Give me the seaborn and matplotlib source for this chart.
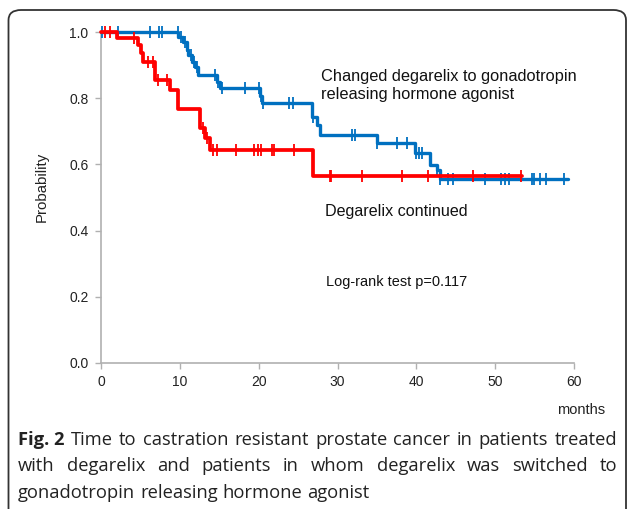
import numpy as np
import pandas as pd
import matplotlib
matplotlib.use("Agg")
import matplotlib.pyplot as plt
import seaborn as sns
from matplotlib.patches import FancyBboxPatch

# ---------------- data ----------------
red_times = [0, 2.07, 4.73, 5.04, 5.37, 6.85, 8.76, 9.81, 12.56, 13.2, 13.8, 26.9]
red_surv = [1.0, 0.981, 0.961, 0.936, 0.910, 0.855, 0.825, 0.767, 0.709, 0.679, 0.643, 0.565]
red_end = 53.4
red_censor = [0.5, 1.2, 4.2, 5.96, 6.6, 7.23, 8.38, 13.0, 13.5, 14.2, 14.7, 17.1, 19.4,
              19.9, 20.3, 21.7, 22.0, 24.5, 29.0, 29.2, 33.1, 38.2, 41.5, 47.2, 53.3]

blue_times = [0, 9.81, 10.45, 10.87, 11.08, 11.5, 11.93, 12.35, 14.68, 15.1, 20.18, 20.39,
              26.74, 27.37, 27.79, 35.0, 39.85, 41.75, 42.6, 43.0]
blue_surv = [1.0, 0.986, 0.971, 0.946, 0.931, 0.910, 0.895, 0.870, 0.850, 0.830, 0.807, 0.786,
             0.744, 0.719, 0.689, 0.664, 0.634, 0.598, 0.583, 0.556]
blue_end = 59.3
blue_censor = [0.1, 2.2, 6.2, 7.3, 7.7, 9.8, 10.2, 10.7, 11.0, 11.4, 11.8, 12.2, 14.5, 14.8,
               15.3, 18.3, 20.0, 20.3, 20.6, 23.8, 24.4, 26.9, 31.8, 32.2, 35.0, 37.5, 38.8,
               39.9, 40.3, 40.7, 42.6, 43.0, 44.0, 44.7, 48.7, 50.8, 51.3, 51.8, 54.7, 54.9,
               55.7, 56.5, 58.7]

colors = {"Changed": "#0070C0", "Continued": "#FF0000"}

x_ticks = [0, 10, 20, 30, 40, 50, 60]
y_ticks = [0.0, 0.2, 0.4, 0.6, 0.8, 1.0]

caption_lines = [
    ["Fig. 2", "Time", "to", "castration", "resistant", "prostate", "cancer", "in", "patients", "treated"],
    ["with", "degarelix", "and", "patients", "in", "whom", "degarelix", "was", "switched", "to"],
    ["gonadotropin", "releasing", "hormone", "agonist"],
]


def step_df(times, surv, end, name):
    xs = list(times) + [end]
    ys = list(surv) + [surv[-1]]
    return pd.DataFrame({"t": xs, "s": ys, "group": name})


def censor_df(times, surv, cens, name):
    t = np.asarray(times)
    s = np.asarray(surv)
    idx = np.searchsorted(t, np.asarray(cens), side="right") - 1
    return pd.DataFrame({"t": cens, "s": s[idx], "group": name})


W, H = 627, 509
fig = plt.figure(figsize=(W / 100, H / 100), dpi=100)
sns.set_style("white")
plt.rcParams["font.family"] = ["Liberation Sans", "DejaVu Sans"]

ax = fig.add_axes([101 / W, 1 - 363 / H, (574 - 101) / W, (363 - 32) / H])

df_blue = step_df(blue_times, blue_surv, blue_end, "Changed")
df_red = step_df(red_times, red_surv, red_end, "Continued")
cb = censor_df(blue_times, blue_surv, blue_censor, "Changed")
cr = censor_df(red_times, red_surv, red_censor, "Continued")

sns.lineplot(data=df_blue, x="t", y="s", color=colors["Changed"], drawstyle="steps-post",
             estimator=None, sort=False, linewidth=2.4, ax=ax, clip_on=False, zorder=3)
sns.scatterplot(data=cb, x="t", y="s", color=colors["Changed"], marker="|", s=80,
                linewidth=1.3, ax=ax, clip_on=False, zorder=3)
sns.lineplot(data=df_red, x="t", y="s", color=colors["Continued"], drawstyle="steps-post",
             estimator=None, sort=False, linewidth=2.7, ax=ax, clip_on=False, zorder=4)
sns.scatterplot(data=cr, x="t", y="s", color=colors["Continued"], marker="|", s=80,
                linewidth=1.3, ax=ax, clip_on=False, zorder=4)

ax.set_xlim(0, 60)
ax.set_ylim(0, 1.0)
ax.set_xticks(x_ticks)
ax.set_yticks(y_ticks)
ax.set_xticklabels([str(v) for v in x_ticks])
ax.set_yticklabels([f"{v:.1f}" for v in y_ticks])
ax.set_xlabel("")
ax.set_ylabel("")
for sp in ["top", "right"]:
    ax.spines[sp].set_visible(False)
for sp in ["left", "bottom"]:
    ax.spines[sp].set_color("#B0B0B0")
    ax.spines[sp].set_linewidth(1.2)
ax.tick_params(axis="both", direction="out", length=4, width=1, color="#B0B0B0",
               labelsize=10, labelcolor="#222222", pad=5, left=True, bottom=True)
if ax.get_legend():
    ax.get_legend().remove()

fig.text(42 / W, 1 - 187 / H, "Probability", rotation=90, ha="center", va="center",
         fontsize=10.8, color="#222222")
fig.text(581 / W, 1 - 410 / H, "months", ha="center", va="center", fontsize=10.5,
         color="#222222")

ax.text(27.9, 0.866, "Changed degarelix to gonadotropin", fontsize=11.8, va="center",
        ha="left", color="#111111")
ax.text(27.9, 0.810, "releasing hormone agonist", fontsize=11.8, va="center", ha="left",
        color="#111111")
ax.text(28.4, 0.457, "Degarelix continued", fontsize=11.6, va="center", ha="left",
        color="#111111")
ax.text(28.6, 0.245, "Log-rank test p=0.117", fontsize=10.45, va="center", ha="left",
        color="#111111")

# frame
frame = FancyBboxPatch((8.5 / W, -40 / H), (626 - 8.5) / W, (H - 10 + 40) / H,
                       boxstyle="round,pad=0,rounding_size=0.02", transform=fig.transFigure,
                       fill=False, edgecolor="#333333", linewidth=1.3, zorder=0)
fig.patches.append(frame)

# caption, justified lines
renderer = fig.canvas.get_renderer()
cap_font = ["Open Sans", "DejaVu Sans"]
x0, x1 = 18, 617
line_y = [440, 466, 493]

probe = fig.text(0, 0, " ".join(caption_lines[2]), fontsize=10, family=cap_font)
pw = probe.get_window_extent(renderer).width
probe.remove()
cap_size = 10 * 350 / pw

for li, words in enumerate(caption_lines):
    objs = []
    for wi, w in enumerate(words):
        bold = (li == 0 and wi == 0)
        t = fig.text(0, 1 - line_y[li] / H, w, fontsize=cap_size, family=cap_font,
                     fontweight="bold" if bold else "normal", va="center", ha="left",
                     color="#222222")
        objs.append(t)
    widths = [o.get_window_extent(renderer).width for o in objs]
    if li < 2:
        gap = (x1 - x0 - sum(widths)) / (len(objs) - 1)
    else:
        sp = fig.text(0, 0, "a a", fontsize=cap_size, family=cap_font)
        sa = fig.text(0, 0, "aa", fontsize=cap_size, family=cap_font)
        gap = sp.get_window_extent(renderer).width - sa.get_window_extent(renderer).width
        sp.remove(); sa.remove()
    x = x0
    for o, wd in zip(objs, widths):
        o.set_x(x / W)
        x += wd + gap

fig.savefig("out.png", dpi=100)
